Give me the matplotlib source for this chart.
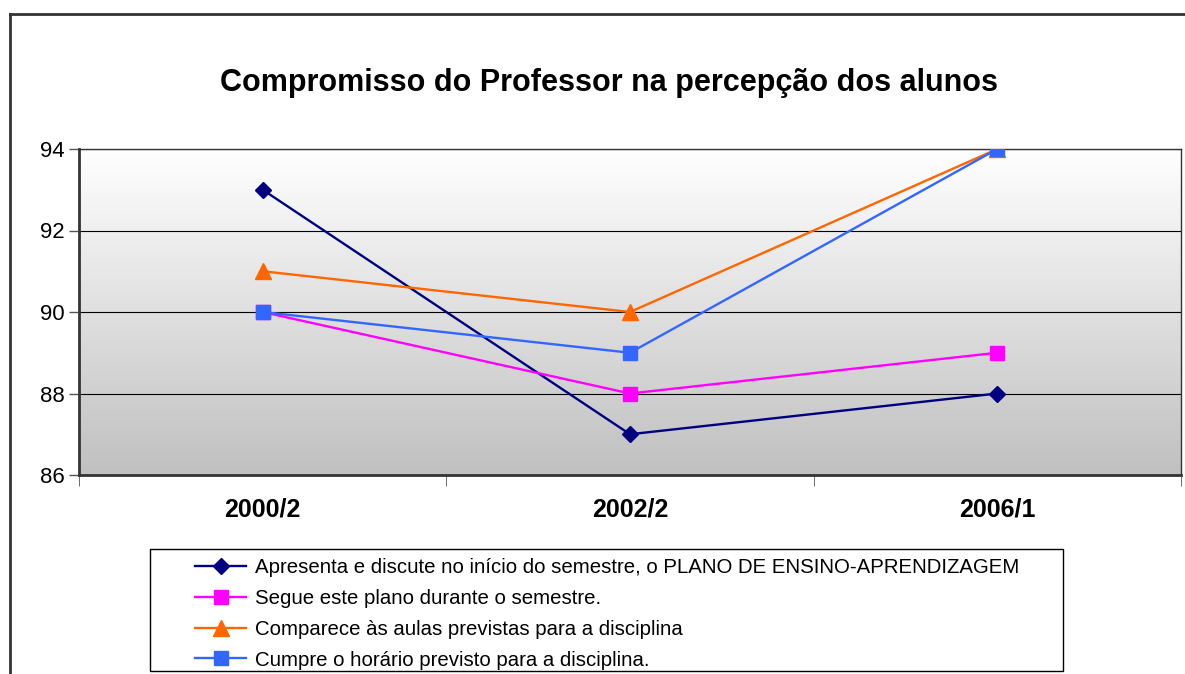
import numpy as np
import matplotlib
matplotlib.use("Agg")
import matplotlib.pyplot as plt
from matplotlib.patches import Rectangle
from matplotlib.lines import Line2D

plt.rcParams["font.family"] = ["Liberation Sans", "DejaVu Sans"]

# data
periods = ["2000/2", "2002/2", "2006/1"]
plano = [93, 87, 88]
segue = [90, 88, 89]
comparece = [91, 90, 94]
cumpre = [90, 89, 94]

labels = [
    "Apresenta e discute no início do semestre, o PLANO DE ENSINO-APRENDIZAGEM",
    "Segue este plano durante o semestre.",
    "Comparece às aulas previstas para a disciplina",
    "Cumpre o horário previsto para a disciplina.",
]

W, H = 1185, 674
fig = plt.figure(figsize=(W / 100, H / 100), dpi=100)
ax = fig.add_axes([79 / W, 1 - 475 / H, (1181 - 79) / W, (475 - 149) / H])

# gradient background (white at top, gray at bottom)
grad = np.linspace(0, 1, 256).reshape(-1, 1)
ax.imshow(grad, cmap=matplotlib.colors.LinearSegmentedColormap.from_list(
    "bg", ["#ffffff", "#c0c0c0"]), aspect="auto", extent=[0, 1, 0, 1],
    transform=ax.transAxes, zorder=0, vmin=0, vmax=1)

x = np.arange(len(periods))
ax.plot(x, plano, color="#000080", marker="D", markersize=8.5, lw=1.7, zorder=3)
ax.plot(x, segue, color="#ff00ff", marker="s", markersize=10.5, lw=1.7, zorder=3)
ax.plot(x, comparece, color="#ff6600", marker="^", markersize=11, lw=1.7, zorder=3)
ax.plot(x, cumpre, color="#3366ff", marker="s", markersize=10.5, lw=1.7, zorder=3)

ax.set_xlim(-0.5, 2.5)
ax.set_ylim(86, 94)
ax.set_yticks([86, 88, 90, 92, 94])
ax.tick_params(axis="y", labelsize=16, length=7, direction="out", width=1, colors="#555555", labelcolor="black")
ax.set_xticks(x)
ax.set_xticklabels(periods, fontsize=18, fontweight="bold")
ax.tick_params(axis="x", length=0, pad=16)
ax.set_xticks([-0.5, 0.5, 1.5, 2.5], minor=True)
ax.tick_params(axis="x", which="minor", length=8, direction="out", color="#555555")
ax.grid(axis="y", color="black", lw=0.8, zorder=1)

for side in ["left", "bottom"]:
    ax.spines[side].set_linewidth(2)
    ax.spines[side].set_color("#333333")
for side in ["top", "right"]:
    ax.spines[side].set_linewidth(1)
    ax.spines[side].set_color("#333333")

fig.text(609 / W, 1 - 83 / H, "Compromisso do Professor na percepção dos alunos",
         ha="center", va="center", fontsize=22, fontweight="bold")

# outer chart frame
fig.add_artist(Line2D([10 / W, 10 / W], [0, 1 - 14 / H], transform=fig.transFigure, color="#333333", lw=2))
fig.add_artist(Line2D([10 / W, 1], [1 - 14 / H, 1 - 14 / H], transform=fig.transFigure, color="#333333", lw=2))

# legend box
fig.add_artist(Rectangle((150 / W, 1 - 671 / H), (1063 - 150) / W, (671 - 549) / H,
                         transform=fig.transFigure, facecolor="white", edgecolor="black", lw=1))
handles = ax.get_lines()
fig.legend(handles, labels, loc="upper left", bbox_to_anchor=(195 / W, 1 - 558 / H),
           frameon=False, fontsize=14.7, handlelength=2.5, handletextpad=0.45,
           labelspacing=0.58, borderpad=0, borderaxespad=0)

plt.savefig("out.png", dpi=100)
